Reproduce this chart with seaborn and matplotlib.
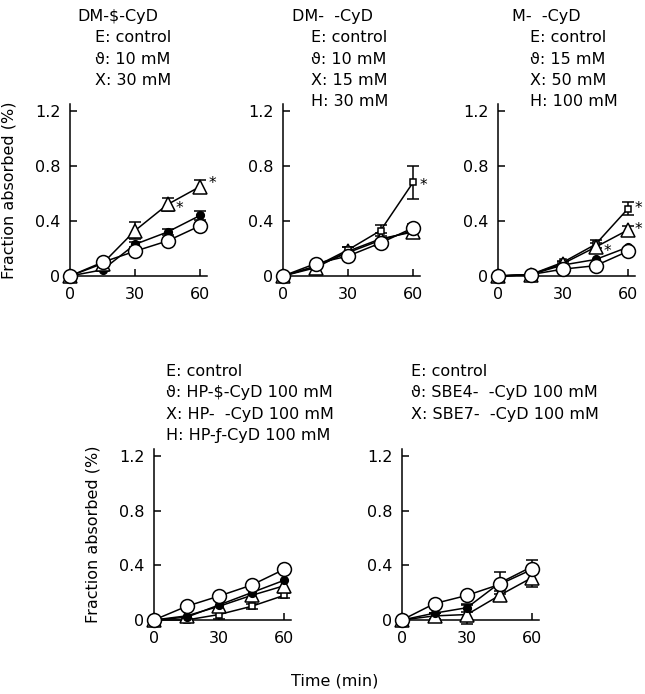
import matplotlib
matplotlib.use("Agg")
import matplotlib.pyplot as plt
import pandas as pd
import seaborn as sns

sns.set_style("ticks")
plt.rcParams['font.family'] = ['DejaVu Sans']
plt.rcParams['font.size'] = 11.5
for key in ["text.color", "axes.labelcolor", "xtick.color", "ytick.color", "axes.edgecolor"]:
    plt.rcParams[key] = "black"

W, H = 645, 694

# time points (min)
t = [0, 15, 30, 45, 60]

# panel 1: DM-β-CyD
p1_ctrl = [0, 0.10, 0.18, 0.255, 0.365]
p1_10 = [0, 0.045, 0.23, 0.32, 0.44]
p1_30 = [0, 0.09, 0.33, 0.52, 0.65]
p1_10_err = [0, 0.01, 0.02, 0.02, 0.03]
p1_30_err = [0, 0.01, 0.06, 0.05, 0.05]

# panel 2: DM-α-CyD
p2_ctrl = [0, 0.09, 0.145, 0.24, 0.35]
p2_10 = [0, 0.07, 0.17, 0.26, 0.33]
p2_15 = [0, 0.06, 0.18, 0.27, 0.32]
p2_30 = [0, 0.07, 0.19, 0.33, 0.68]
p2_ctrl_err = [0, 0, 0, 0, 0.03]
p2_15_err = [0, 0.01, 0.03, 0.04, 0.04]
p2_30_err = [0, 0.01, 0.02, 0.04, 0.12]

# panel 3: M-α-CyD
p3_ctrl = [0, 0.01, 0.05, 0.075, 0.18]
p3_15 = [0, 0.01, 0.08, 0.12, 0.21]
p3_50 = [0, 0.01, 0.09, 0.21, 0.335]
p3_100 = [0, 0.01, 0.10, 0.23, 0.49]
p3_50_err = [0, 0, 0.01, 0.03, 0.03]
p3_100_err = [0, 0, 0.01, 0.03, 0.05]

# panel 4: HP-CyDs 100 mM
p4_ctrl = [0, 0.10, 0.175, 0.255, 0.37]
p4_b = [0, 0.02, 0.11, 0.20, 0.29]
p4_a = [0, 0.03, 0.10, 0.18, 0.25]
p4_g = [0, 0.0, 0.04, 0.10, 0.18]
p4_g_err = [0, 0.01, 0.03, 0.02, 0.02]

# panel 5: SBE-CyDs 100 mM
p5_ctrl = [0, 0.12, 0.18, 0.26, 0.37]
p5_4 = [0, 0.05, 0.09, 0.27, 0.39]
p5_7 = [0, 0.03, 0.04, 0.18, 0.31]
p5_4_err = [0, 0, 0.03, 0.08, 0.05]
p5_7_err = [0, 0.02, 0.07, 0.03, 0.07]

# legend texts
leg1 = ["DM-$-CyD", "E: control", "ϑ: 10 mM", "X: 30 mM"]
leg2 = ["DM-  -CyD", "E: control", "ϑ: 10 mM", "X: 15 mM", "H: 30 mM"]
leg3 = ["M-  -CyD", "E: control", "ϑ: 15 mM", "X: 50 mM", "H: 100 mM"]
leg4 = ["E: control", "ϑ: HP-$-CyD 100 mM", "X: HP-  -CyD 100 mM", "H: HP-ƒ-CyD 100 mM"]
leg5 = ["E: control", "ϑ: SBE4-  -CyD 100 mM", "X: SBE7-  -CyD 100 mM"]

styles = {
    "sq": dict(marker="s", ms=5, mfc="white", mec="black"),
    "tri": dict(marker="^", ms=9.5, mfc="white", mec="black"),
    "dot": dict(marker="o", ms=5.5, mfc="black", mec="black"),
    "ctrl": dict(marker="o", ms=10, mfc="white", mec="black"),
}


def px_axes(fig, left, top, right, bottom):
    return fig.add_axes([left / W, 1 - bottom / H, (right - left) / W, (bottom - top) / H])


def draw(ax, series, stars):
    # series: list of (kind, values, errors) drawn in that order
    for kind, vals, err in series:
        df = pd.DataFrame({"t": t, "v": vals})
        st = styles[kind]
        if err is not None:
            ax.errorbar(t, vals, yerr=err, fmt="none", ecolor="black",
                        elinewidth=1.1, capsize=4, capthick=1.1, clip_on=False, zorder=2)
        sns.lineplot(data=df, x="t", y="v", ax=ax, color="black", lw=1.1,
                     marker=st["marker"], markersize=st["ms"],
                     markerfacecolor=st["mfc"], markeredgecolor=st["mec"],
                     markeredgewidth=1.1, clip_on=False, zorder=3)
    for vals, i, dx, dy in stars:
        ax.annotate("*", (t[i], vals[i]), xytext=(dx, dy), textcoords="offset points",
                    ha="left", va="center", fontsize=11)
    ax.set_xlim(0, 63.2)
    ax.set_ylim(0, 1.25)
    ax.set_xticks([0, 30, 60])
    ax.set_yticks([0, 0.4, 0.8, 1.2])
    ax.set_yticklabels(["0", "0.4", "0.8", "1.2"])
    ax.tick_params(direction="in", length=5, width=1.1, pad=7, labelsize=11.5)
    ax.tick_params(axis="x", pad=8)
    sns.despine(ax=ax)
    for s in ["left", "bottom"]:
        ax.spines[s].set_linewidth(1.1)
    ax.set_xlabel("")
    ax.set_ylabel("")


def legend(fig, lines, x_first, x_rest, y0, step=21.5, title=True):
    for k, txt in enumerate(lines):
        x = x_first if (title and k == 0) else x_rest
        fig.text(x / W, 1 - (y0 + k * step) / H, txt, ha="left", va="center", fontsize=11.5)


fig = plt.figure(figsize=(W / 100, H / 100), dpi=100)

ax1 = px_axes(fig, 70, 104, 207, 276)
draw(ax1, [("dot", p1_10, p1_10_err), ("tri", p1_30, p1_30_err), ("ctrl", p1_ctrl, None)],
     [(p1_30, 4, 6, 2), (p1_30, 3, 6, -3)])
ax1.set_ylabel("Fraction absorbed (%)", labelpad=13)
legend(fig, leg1, 77, 95, 16)

ax2 = px_axes(fig, 283, 104, 420, 276)
draw(ax2, [("tri", p2_15, p2_15_err), ("dot", p2_10, None), ("sq", p2_30, p2_30_err),
           ("ctrl", p2_ctrl, p2_ctrl_err)],
     [(p2_30, 4, 5, -2)])
legend(fig, leg2, 292, 311, 16)

ax3 = px_axes(fig, 498, 104, 635, 276)
draw(ax3, [("dot", p3_15, None), ("sq", p3_100, p3_100_err), ("tri", p3_50, p3_50_err),
           ("ctrl", p3_ctrl, None)],
     [(p3_100, 4, 5, 0), (p3_50, 4, 5, 0), (p3_50, 3, 6, -3)])
legend(fig, leg3, 512, 530, 16)

ax4 = px_axes(fig, 154, 449, 291, 620)
draw(ax4, [("sq", p4_g, p4_g_err), ("tri", p4_a, None), ("dot", p4_b, None),
           ("ctrl", p4_ctrl, None)], [])
ax4.set_ylabel("Fraction absorbed (%)", labelpad=13)
legend(fig, leg4, 166, 166, 371, title=False)

ax5 = px_axes(fig, 402, 449, 539, 620)
draw(ax5, [("tri", p5_7, p5_7_err), ("dot", p5_4, p5_4_err), ("ctrl", p5_ctrl, None)], [])
legend(fig, leg5, 411, 411, 371, title=False)

fig.text(335 / W, 1 - 681 / H, "Time (min)", ha="center", va="center", fontsize=11.5)

fig.savefig("out.png", dpi=100)
